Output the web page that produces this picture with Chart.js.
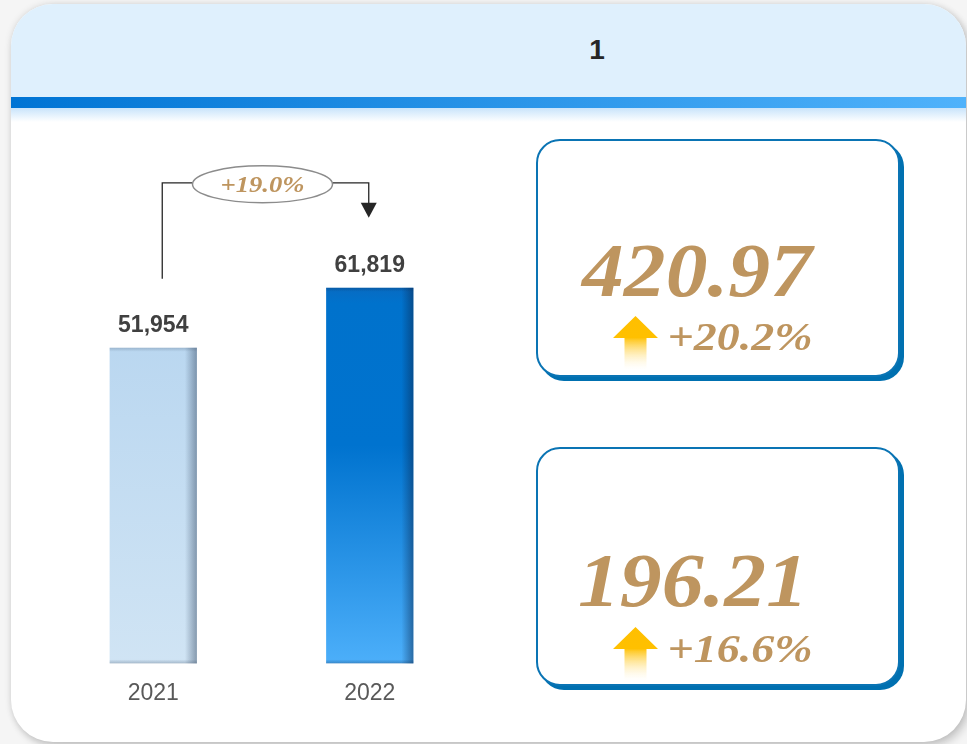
<!DOCTYPE html>
<html><head><meta charset="utf-8">
<script src="https://cdn.jsdelivr.net/npm/chart.js@4.4.1/dist/chart.umd.min.js"></script>
<style>
html,body{margin:0;padding:0;width:967px;height:744px;overflow:hidden;background:#f5f5f5;}
#card{position:absolute;left:11px;top:4px;width:955px;height:738px;border-radius:42px;background:#fff;overflow:hidden;
  box-shadow:0 0 7px rgba(0,0,0,0.13),4px 5px 8px rgba(0,0,0,0.16);}
#head{position:absolute;left:0;top:0;width:100%;height:93px;background:#dff0fd;}
#stripe{position:absolute;left:0;top:93px;width:100%;height:11px;background:linear-gradient(90deg,#0074d4,#4fb2fb);}
#glow{position:absolute;left:0;top:104px;width:100%;height:14px;background:linear-gradient(180deg,#c9e4fb,rgba(255,255,255,0));}
#title{position:absolute;left:547px;top:36px;width:100px;text-align:center;font:bold 28px/28px "Liberation Sans",Arial,sans-serif;color:#262626;}
.kpi{position:absolute;left:536px;width:360px;border:2px solid #0a74b4;border-radius:24px;box-shadow:4px 4px 0 #0070b0;background:#fff;}
#c{position:absolute;left:0;top:0;z-index:5;}
</style>
</head>
<body>
<div id="card"><div id="head"></div><div id="stripe"></div><div id="glow"></div></div>
<div id="title"></div>
<div class="kpi" style="top:139px;height:234px;"></div>
<div class="kpi" style="top:447px;height:235px;"></div>
<canvas id="c" width="967" height="744"></canvas>
<script>
// ---- data ----
const headerTitle = '1';
const categories = ['2021', '2022'];
const revenueValues = [51954, 61819];
const revenueGrowth = '+19.0%';
const kpiValues = ['420.97', '196.21'];
const kpiGrowth = ['+20.2%', '+16.6%'];

document.getElementById('title').textContent = headerTitle;

const GOLD = '#be955f';
const SERIF = '"Liberation Serif","Times New Roman",serif';

const solidFill = ['#c6def2', '#0a78d2'];
function barFill(c) {
  const chart = c.chart;
  const ys = chart.scales && chart.scales.y;
  if (!ys || !chart.chartArea) return solidFill[c.dataIndex];
  const top = ys.getPixelForValue(c.raw), bot = ys.getPixelForValue(0);
  if (!isFinite(top) || !isFinite(bot) || top === bot) return solidFill[c.dataIndex];
  const g = chart.ctx.createLinearGradient(0, top, 0, bot);
  if (c.dataIndex === 0) {
    g.addColorStop(0, '#bad7f0');
    g.addColorStop(1, '#d0e4f4');
  } else {
    g.addColorStop(0, '#086bc2');
    g.addColorStop(0.04, '#0072cc');
    g.addColorStop(0.42, '#0073cf');
    g.addColorStop(1, '#4caffa');
  }
  return g;
}

const barShade = {
  id: 'barShade',
  afterDatasetsDraw(chart) {
    const ctx = chart.ctx;
    const meta = chart.getDatasetMeta(0);
    ctx.save();
    meta.data.forEach((el, i) => {
      const l = el.x - el.width / 2, r = el.x + el.width / 2, t = el.y, b = el.base;
      const sc = i === 0 ? '60,80,105' : '10,40,80';
      const w = 12;
      let g = ctx.createLinearGradient(r - w, 0, r, 0);
      g.addColorStop(0, 'rgba(' + sc + ',0)');
      g.addColorStop(1, 'rgba(' + sc + ',0.5)');
      ctx.fillStyle = g;
      ctx.fillRect(r - w, t, w, b - t);
      g = ctx.createLinearGradient(0, t, 0, t + 4);
      g.addColorStop(0, 'rgba(' + sc + ',0.25)');
      g.addColorStop(1, 'rgba(' + sc + ',0)');
      ctx.fillStyle = g;
      ctx.fillRect(l, t, r - l, 4);
      g = ctx.createLinearGradient(0, b - 4, 0, b);
      g.addColorStop(0, 'rgba(' + sc + ',0)');
      g.addColorStop(1, 'rgba(' + sc + ',0.3)');
      ctx.fillStyle = g;
      ctx.fillRect(l, b - 4, r - l, 4);
    });
    ctx.restore();
  }
};

const valueLabels = {
  id: 'valueLabels',
  afterDatasetsDraw(chart) {
    const ctx = chart.ctx;
    const meta = chart.getDatasetMeta(0);
    ctx.save();
    ctx.font = 'bold 23px "Liberation Sans", Arial, sans-serif';
    ctx.fillStyle = '#404040';
    ctx.textAlign = 'center';
    ctx.textBaseline = 'alphabetic';
    meta.data.forEach((el, i) => {
      ctx.fillText(revenueValues[i].toLocaleString('en-US'), el.x, el.y - 16);
    });
    ctx.restore();
  }
};

function stretchText(ctx, text, cx, baseline, sx) {
  ctx.save();
  ctx.translate(cx, baseline);
  ctx.scale(sx, 1);
  ctx.fillText(text, 0, 0);
  ctx.restore();
}

const growthArrow = {
  id: 'growthArrow',
  afterDatasetsDraw(chart) {
    const ctx = chart.ctx;
    const meta = chart.getDatasetMeta(0);
    const a = meta.data[0], b = meta.data[1];
    const x1 = a.x + 9, x2 = b.x - 1;
    const yH = Math.min(a.y, b.y) - 105;
    const yStart = a.y - 69;
    const yTip = b.y - 70;
    const cx = (x1 + x2) / 2 - 3, cy = yH + 1.5, rx = 70, ry = 18.5;
    ctx.save();
    ctx.strokeStyle = '#262626';
    ctx.lineWidth = 1.3;
    ctx.beginPath();
    ctx.moveTo(x1, yStart); ctx.lineTo(x1, yH); ctx.lineTo(cx - rx, yH);
    ctx.moveTo(cx + rx, yH); ctx.lineTo(x2, yH); ctx.lineTo(x2, yTip - 14);
    ctx.stroke();
    ctx.fillStyle = '#262626';
    ctx.beginPath();
    ctx.moveTo(x2 - 8, yTip - 15); ctx.lineTo(x2 + 8, yTip - 15); ctx.lineTo(x2, yTip);
    ctx.closePath(); ctx.fill();
    ctx.beginPath();
    ctx.ellipse(cx, cy, rx, ry, 0, 0, Math.PI * 2);
    ctx.fillStyle = '#ffffff'; ctx.fill();
    ctx.strokeStyle = '#8c8c8c'; ctx.lineWidth = 1.5; ctx.stroke();
    ctx.fillStyle = GOLD;
    ctx.font = 'italic bold 23px ' + SERIF;
    ctx.textAlign = 'center';
    ctx.textBaseline = 'alphabetic';
    stretchText(ctx, revenueGrowth, cx, cy + 7.5, 1.16);
    ctx.restore();
  }
};

function upArrow(ctx, cx, top) {
  const g = ctx.createLinearGradient(0, top, 0, top + 54);
  g.addColorStop(0, '#ffbf00');
  g.addColorStop(0.4, '#ffc000');
  g.addColorStop(0.45, '#ffcb2e');
  g.addColorStop(1, 'rgba(255,245,215,0)');
  ctx.fillStyle = g;
  ctx.beginPath();
  ctx.moveTo(cx, top);
  ctx.lineTo(cx + 22.5, top + 22);
  ctx.lineTo(cx + 11, top + 22);
  ctx.lineTo(cx + 11, top + 54);
  ctx.lineTo(cx - 11, top + 54);
  ctx.lineTo(cx - 11, top + 22);
  ctx.lineTo(cx - 22.5, top + 22);
  ctx.closePath();
  ctx.fill();
}

const kpiText = {
  id: 'kpiText',
  afterDraw(chart) {
    const ctx = chart.ctx;
    const spots = [
      { vx: 697, vy: 296, gx: 740, gy: 350, ax: 635.5, ay: 316 },
      { vx: 693, vy: 606, gx: 740, gy: 662, ax: 635.5, ay: 627 }
    ];
    ctx.save();
    ctx.fillStyle = GOLD;
    ctx.textAlign = 'center';
    ctx.textBaseline = 'alphabetic';
    kpiValues.forEach((v, i) => {
      const s = spots[i];
      ctx.fillStyle = GOLD;
      ctx.font = 'italic bold 76px ' + SERIF;
      stretchText(ctx, v, s.vx, s.vy, 1.1);
      ctx.font = 'italic bold 39px ' + SERIF;
      stretchText(ctx, kpiGrowth[i], s.gx, s.gy, 1.18);
      upArrow(ctx, s.ax, s.ay);
    });
    ctx.restore();
  }
};

Chart.defaults.font.family = '"Liberation Sans", Arial, sans-serif';

new Chart(document.getElementById('c'), {
  type: 'bar',
  data: {
    labels: categories,
    datasets: [{
      data: revenueValues,
      backgroundColor: barFill,
      borderWidth: 0,
      barPercentage: 0.403,
      categoryPercentage: 1
    }]
  },
  options: {
    responsive: false,
    animation: false,
    layout: { padding: { left: 45, right: 489, top: 116.6, bottom: 21 } },
    scales: {
      x: {
        grid: { display: false, drawTicks: false },
        border: { display: false },
        ticks: { color: '#595959', font: { size: 23 }, padding: 16 }
      },
      y: { display: false, min: 0, max: 90000 }
    },
    plugins: { legend: { display: false }, tooltip: { enabled: false } }
  },
  plugins: [barShade, valueLabels, growthArrow, kpiText]
});
</script>
</body></html>
